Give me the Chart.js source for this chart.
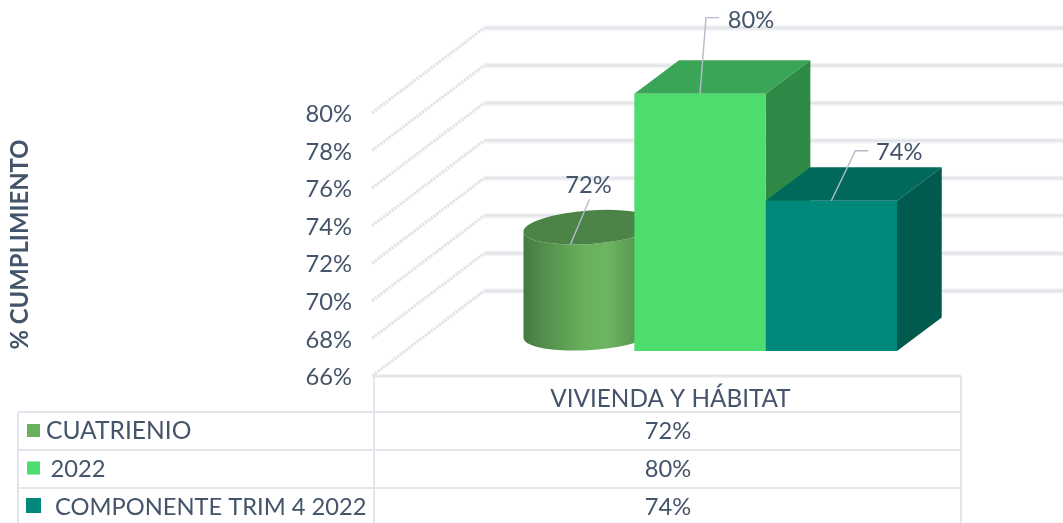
<!DOCTYPE html>
<html><head><meta charset="utf-8">
<style>html,body{margin:0;padding:0;background:#fff}canvas{display:block}</style>
<script src="https://cdn.jsdelivr.net/npm/chart.js@4"></script>
</head><body><canvas id="c" width="1063" height="523"></canvas>
<script>
const categories = ['VIVIENDA Y HÁBITAT'];
const seriesNames = ['CUATRIENIO', '2022', 'COMPONENTE TRIM 4 2022'];
const cuatrienio = [71.7];
const year2022 = [79.7];
const componente = [74.0];
const yTicks = [66, 68, 70, 72, 74, 76, 78, 80];

const TEXT = '#44546a';
const FONT = 'Lato';
const FS = 23.7;
const frontColors = ['#69b05c', '#4edc6e', '#00897a'];
const topColors = ['#4c8346', '#3aa556', '#00695b'];
const sideColors = ['#4c8346', '#308a47', '#005a4e'];
const WALL = {dx: 112, dy: -85};
const GAP = {dx: 33.5, dy: -25};
const DEPTH = {dx: 44.7, dy: -33.5};
const leaders = [
  [[-20, 17], [-1, -28]],
  [[0, 0], [6, -76], [19, -76]],
  [[0, 0], [24, -50], [37, -50]]
];
const labelOffsets = [[-2, -42], [51, -73], [68, -48]];
const legendSizes = [24.6, FS, FS];

function poly(ctx, pts, fill) {
  ctx.beginPath();
  pts.forEach((p, i) => i ? ctx.lineTo(p[0], p[1]) : ctx.moveTo(p[0], p[1]));
  ctx.closePath();
  ctx.fillStyle = fill;
  ctx.fill();
}
function drawWalls(chart) {
  const {ctx, chartArea: a} = chart;
  const ys = chart.scales.y;
  yTicks.forEach(t => {
    const y = ys.getPixelForValue(t);
    ctx.lineWidth = 3.2;
    ctx.strokeStyle = '#e2e4e7';
    ctx.setLineDash([2.5, 1]);
    ctx.beginPath();
    ctx.moveTo(a.left, y);
    ctx.lineTo(a.left + WALL.dx, y + WALL.dy);
    ctx.stroke();
    ctx.setLineDash([]);
    const by = y + WALL.dy;
    ctx.fillStyle = '#eff0f3';
    ctx.fillRect(a.left + WALL.dx, by - 2.5, a.right - a.left, 5);
    ctx.fillStyle = '#dcdee2';
    ctx.fillRect(a.left + WALL.dx, by - 0.8, a.right - a.left, 1.2);
  });
  const y0 = ys.getPixelForValue(yTicks[0]);
  ctx.fillStyle = '#e4e7ec';
  ctx.fillRect(a.left, y0 - 1.5, a.right - a.left, 3);
}
function drawBox(ctx, el, i) {
  const l = el.x - el.width / 2 + GAP.dx, r = l + el.width;
  const t = el.y + GAP.dy, b = el.base + GAP.dy;
  poly(ctx, [[r, t], [r + DEPTH.dx, t + DEPTH.dy], [r + DEPTH.dx, b + DEPTH.dy], [r, b]], sideColors[i]);
  poly(ctx, [[l, t], [l + DEPTH.dx, t + DEPTH.dy], [r + DEPTH.dx, t + DEPTH.dy], [r, t]], topColors[i]);
  poly(ctx, [[l, t], [r, t], [r, b], [l, b]], frontColors[i]);
  return {x: (l + r) / 2, y: t};
}
function drawCylinder(ctx, el, i) {
  const rx = el.width / 2 + 1.5, ry = -DEPTH.dy / 2;
  const tilt = -0.07;
  const cx = el.x + GAP.dx + DEPTH.dx / 2 - 0.5;
  const t = el.y + GAP.dy + DEPTH.dy / 2, b = el.base + GAP.dy + DEPTH.dy / 2 - 1;
  const ex = rx * Math.cos(tilt), ey = rx * Math.sin(tilt);
  const g = ctx.createLinearGradient(cx - rx, 0, cx + rx, 0);
  g.addColorStop(0, '#437a40');
  g.addColorStop(0.12, '#4f8a4a');
  g.addColorStop(0.45, '#69b05c');
  g.addColorStop(0.62, '#6cb561');
  g.addColorStop(1, '#4c8346');
  ctx.beginPath();
  ctx.moveTo(cx - ex, t - ey);
  ctx.lineTo(cx - ex, b - ey);
  ctx.ellipse(cx, b, rx, ry, tilt, Math.PI, 0, true);
  ctx.lineTo(cx + ex, t + ey);
  ctx.ellipse(cx, t, rx, ry, tilt, 0, Math.PI, false);
  ctx.closePath();
  ctx.fillStyle = g;
  ctx.fill();
  ctx.beginPath();
  ctx.ellipse(cx, t, rx, ry, tilt, 0, Math.PI * 2);
  ctx.fillStyle = topColors[i];
  ctx.fill();
  return {x: cx, y: t};
}
function drawTable(chart) {
  const {ctx, chartArea: a} = chart;
  const rows = [412, 450, 488];
  const left = 18, bottom = 523;
  ctx.fillStyle = '#e3e6ec';
  rows.forEach(y => ctx.fillRect(left, y - 1, a.right - left, 2));
  [left, a.left + 2, a.right].forEach(x => {
    const top = x === left ? rows[0] : a.bottom;
    ctx.fillRect(x - 1, top, 2, bottom - top);
  });
  const keyBoxes = [[27, 424, 13], [27, 461.5, 13], [26, 498, 15]];
  ctx.textBaseline = 'middle';
  chart.data.datasets.forEach((ds, i) => {
    const [kx, ky, ks] = keyBoxes[i];
    ctx.fillStyle = frontColors[i];
    ctx.fillRect(kx, ky, ks, ks);
    ctx.fillStyle = TEXT;
    ctx.textAlign = 'left';
    ctx.font = legendSizes[i] + 'px ' + FONT;
    ctx.fillText(ds.label, 46 + i * 4.5, rows[i] + 19);
    ctx.textAlign = 'center';
    ctx.font = FS + 'px ' + FONT;
    ctx.fillText(Math.round(ds.data[0]) + '%', (a.left + 2 + a.right) / 2 + 0.5, rows[i] + 19.5);
  });
}
const scene = {
  id: 'scene',
  beforeDatasetsDraw(chart) {
    const ctx = chart.ctx;
    ctx.save();
    drawWalls(chart);
    const anchors = chart.data.datasets.map((ds, i) => {
      const el = chart.getDatasetMeta(i).data[0];
      return i === 0 ? drawCylinder(ctx, el, i) : drawBox(ctx, el, i);
    });
    chart.data.datasets.forEach((ds, i) => {
      const A = anchors[i];
      ctx.beginPath();
      leaders[i].forEach((o, k) => k ? ctx.lineTo(A.x + o[0], A.y + o[1]) : ctx.moveTo(A.x + o[0], A.y + o[1]));
      ctx.strokeStyle = '#b3bccb';
      ctx.lineWidth = 1.4;
      ctx.stroke();
      ctx.fillStyle = TEXT;
      ctx.font = FS + 'px ' + FONT;
      ctx.textAlign = 'center';
      ctx.textBaseline = 'middle';
      ctx.fillText(Math.round(ds.data[0]) + '%', A.x + labelOffsets[i][0], A.y + labelOffsets[i][1]);
    });
    drawTable(chart);
    ctx.restore();
    return false;
  }
};
new Chart(document.getElementById('c'), {
  type: 'bar',
  data: {
    labels: categories,
    datasets: [
      {label: seriesNames[0], data: cuatrienio, backgroundColor: frontColors[0]},
      {label: seriesNames[1], data: year2022, backgroundColor: frontColors[1]},
      {label: seriesNames[2], data: componente, backgroundColor: frontColors[2]}
    ]
  },
  options: {
    responsive: false,
    animation: false,
    layout: {padding: {top: 113, right: 102, left: 0, bottom: 0}},
    datasets: {bar: {categoryPercentage: 0.669, barPercentage: 1, base: 66}},
    plugins: {legend: {display: false}, title: {display: false}, tooltip: {enabled: false}},
    scales: {
      x: {
        grid: {display: false, drawTicks: false},
        border: {display: false},
        ticks: {color: TEXT, font: {family: FONT, size: 24.3}, padding: 8.5, labelOffset: 4, maxRotation: 0},
        afterFit(axis) { axis.height = 147; }
      },
      y: {
        min: 66, max: 80,
        afterBuildTicks(axis) { axis.ticks = yTicks.map(v => ({value: v})); },
        grid: {display: false, drawTicks: false},
        border: {display: false},
        ticks: {color: TEXT, font: {family: FONT, size: FS}, padding: 20, labelOffset: 1.5, callback: v => v + '%'},
        title: {display: true, text: '% CUMPLIMIENTO', color: TEXT, font: {family: FONT, size: 23.8, weight: 'bold'}, padding: {top: 6, bottom: 0}},
        afterFit(axis) { axis.width = 372; }
      }
    }
  },
  plugins: [scene]
});
</script></body></html>
